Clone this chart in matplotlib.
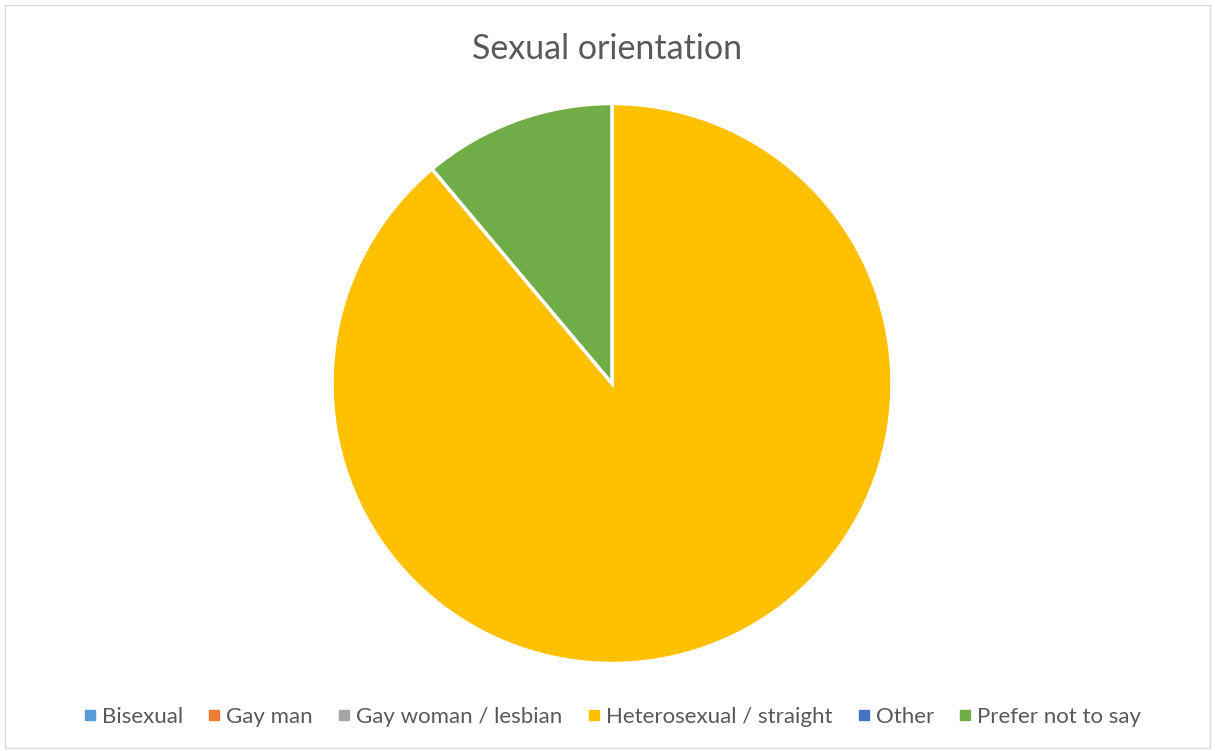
import matplotlib
matplotlib.use("Agg")
import matplotlib.pyplot as plt
from matplotlib.lines import Line2D
from matplotlib.patches import Rectangle

categories = ["Bisexual", "Gay man", "Gay woman / lesbian",
              "Heterosexual / straight", "Other", "Prefer not to say"]
values = [0, 0, 0, 8, 0, 1]
colors = ["#5B9BD5", "#ED7D31", "#A5A5A5", "#FFC000", "#4472C4", "#70AD47"]
title = "Sexual orientation"

W, H = 1215, 751
fig = plt.figure(figsize=(W / 100, H / 100), dpi=100)
fig.patch.set_facecolor("white")
fig.add_artist(Rectangle((0.004, 0.004), 0.992, 0.990, transform=fig.transFigure,
                         fill=False, edgecolor="#D9D9D9", linewidth=1))

cx, cy, r = 612, 383.5, 280
ax = fig.add_axes([(cx - r) / W, (H - cy - r) / H, 2 * r / W, 2 * r / H])
nz = [(v, c) for v, c in zip(values, colors) if v > 0]
ax.pie([v for v, c in nz], colors=[c for v, c in nz], startangle=90,
       counterclock=False, radius=1,
       wedgeprops=dict(edgecolor="white", linewidth=2.5))
ax.set_xlim(-1.0, 1.0)
ax.set_ylim(-1.0, 1.0)
ax.set_aspect("equal")
ax.axis("off")

fig.text(0.5, 1 - 49 / H, title, ha="center", va="center",
         fontsize=24.5, color="#595959", family="Lato")

handles = [Line2D([0], [0], marker="s", linestyle="none", markersize=6.5,
                  markerfacecolor=c, markeredgecolor=c) for c in colors]
fig.legend(handles, categories, loc="center", bbox_to_anchor=(0.503, 1 - 717 / H),
           ncol=6, frameon=False, prop=dict(family="Lato", size=16),
           labelcolor="#595959", handletextpad=0.15, columnspacing=1.0,
           handlelength=0.8)

fig.savefig("out.png", dpi=100)
